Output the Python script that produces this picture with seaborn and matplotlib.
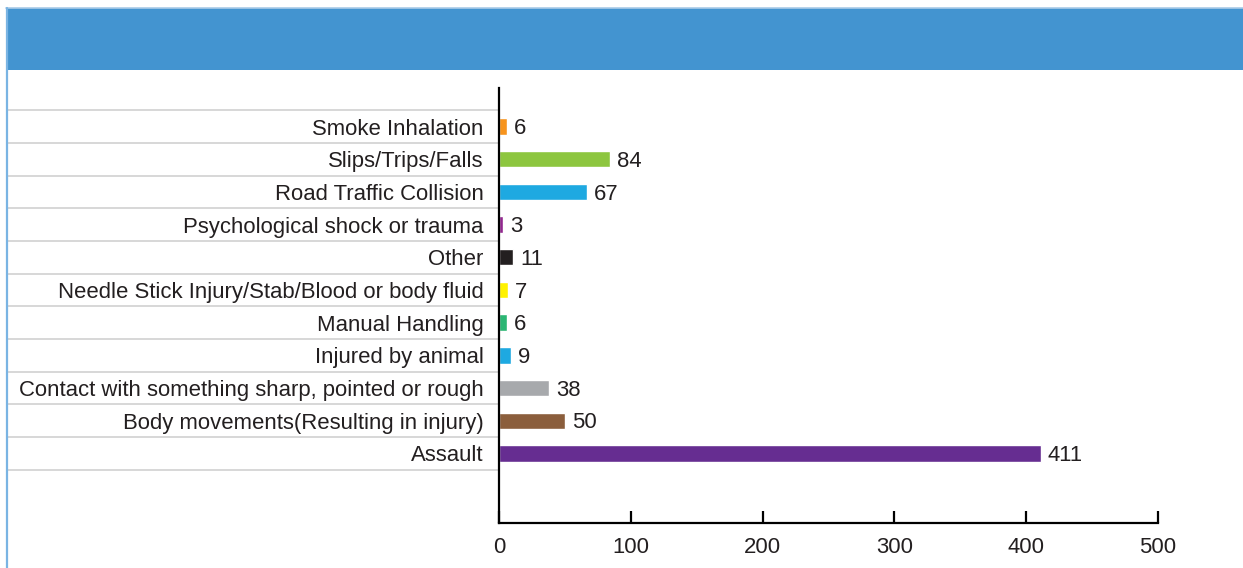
import matplotlib
matplotlib.use("Agg")
import matplotlib.pyplot as plt
import matplotlib.transforms as mtransforms
from matplotlib.patches import Rectangle
from matplotlib.lines import Line2D
import seaborn as sns
import pandas as pd

# datos del gráfico
categories = [
    "Smoke Inhalation",
    "Slips/Trips/Falls",
    "Road Traffic Collision",
    "Psychological shock or trauma",
    "Other",
    "Needle Stick Injury/Stab/Blood or body fluid",
    "Manual Handling",
    "Injured by animal",
    "Contact with something sharp, pointed or rough",
    "Body movements(Resulting in injury)",
    "Assault",
]
values = [6, 84, 67, 3, 11, 7, 6, 9, 38, 50, 411]
colors = ["#f7941d", "#8dc63f", "#1ea9e1", "#92278f", "#231f20", "#fff200",
          "#2bb673", "#1ea9e1", "#a7a9ac", "#8b5e3c", "#662d91"]
xticks = [0, 100, 200, 300, 400, 500]

df = pd.DataFrame({"category": categories, "value": values})

sns.set_style("white")
plt.rcParams["font.family"] = ["Liberation Sans", "DejaVu Sans"]
fs = 15.9

fig = plt.figure(figsize=(12.43, 5.68), dpi=100)
W, H = 1243, 568

# banda azul superior y borde izquierdo
fig.patches.append(Rectangle((6 / W, 1 - 70 / H), 1, 62 / H, transform=fig.transFigure,
                             facecolor="#4394d0", edgecolor="none", zorder=0))
fig.lines.append(Line2D([6 / W, 1], [1 - 8 / H, 1 - 8 / H], transform=fig.transFigure,
                        color="#a9cbe8", lw=1.2))
fig.lines.append(Line2D([7 / W, 7 / W], [0, 1 - 8 / H], transform=fig.transFigure,
                        color="#7ab4e3", lw=1.6))

ax = fig.add_axes([499 / W, 45 / H, 659 / W, 435 / H])
sns.barplot(data=df, y="category", x="value", hue="category", palette=colors,
            orient="h", width=0.5, legend=False, saturation=1, ax=ax)

for c in ax.containers:
    for t in ax.bar_label(c, padding=5, fontsize=fs, color="#231f20"):
        t.xyann = (5, -1.5)

# líneas grises separando las filas
trans = mtransforms.blended_transform_factory(fig.transFigure, ax.transData)
for i in range(len(categories) + 1):
    ax.plot([8 / W, 499 / W], [i - 0.5, i - 0.5], transform=trans, color="#d4d4d4",
            lw=1.3, clip_on=False, zorder=1)

ax.set_xlim(0, 500)
ax.set_ylim(12.13, -1.18)
ax.set_xticks(xticks)
ax.set_xlabel("")
ax.set_ylabel("")
ax.patch.set_alpha(0)
sns.despine(ax=ax)
for s in ["left", "bottom"]:
    ax.spines[s].set_linewidth(1.6)
    ax.spines[s].set_color("black")
ax.tick_params(axis="x", bottom=True, direction="in", length=9, width=1.6, pad=10,
               labelsize=fs, colors="black", labelcolor="#231f20")
ax.tick_params(axis="y", left=False, length=0, pad=11, labelsize=fs, labelcolor="#231f20")

fig.savefig("out.png", dpi=100)
